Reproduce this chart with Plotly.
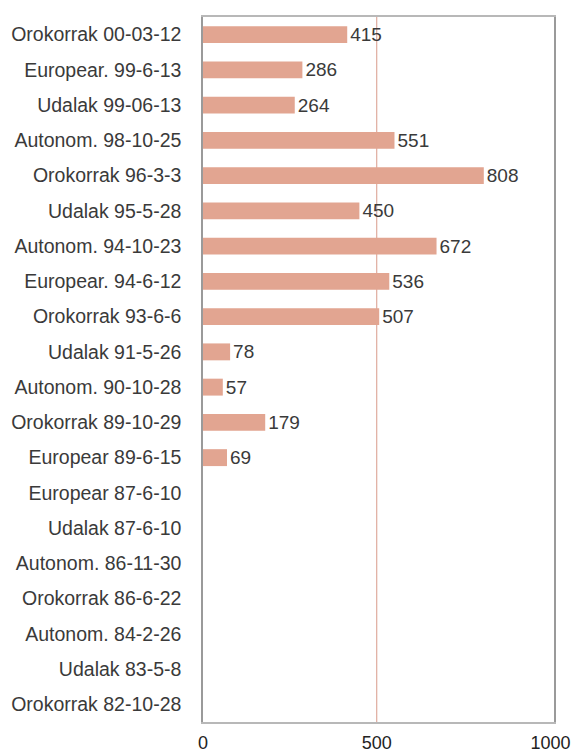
import plotly.graph_objects as go

# Election dates (top to bottom) and their values
categories = [
    "Orokorrak 00-03-12", "Europear. 99-6-13", "Udalak 99-06-13",
    "Autonom. 98-10-25", "Orokorrak 96-3-3", "Udalak 95-5-28",
    "Autonom. 94-10-23", "Europear. 94-6-12", "Orokorrak 93-6-6",
    "Udalak 91-5-26", "Autonom. 90-10-28", "Orokorrak 89-10-29",
    "Europear 89-6-15", "Europear 87-6-10", "Udalak 87-6-10",
    "Autonom. 86-11-30", "Orokorrak 86-6-22", "Autonom. 84-2-26",
    "Udalak 83-5-8", "Orokorrak 82-10-28",
]
values = [415, 286, 264, 551, 808, 450, 672, 536, 507, 78, 57, 179, 69,
          None, None, None, None, None, None, None]
x_ticks = [0, 500, 1000]
ref_value = 500

labels = ["" if v is None else str(v) for v in values]
FONT = "Liberation Sans, Arial, sans-serif"

fig = go.Figure(
    go.Bar(
        x=values,
        y=categories,
        orientation="h",
        marker=dict(color="#E2A591", line=dict(width=0)),
        width=0.48,
        text=labels,
        textposition="outside",
        constraintext="none",
        cliponaxis=False,
        textfont=dict(family=FONT, size=19, color="#3a3a3a"),
    )
)

# reference line at 500
fig.add_shape(
    type="line", xref="x", yref="paper",
    x0=ref_value, x1=ref_value, y0=0, y1=1,
    line=dict(color="#D89A8A", width=1), layer="below",
)

fig.update_layout(
    width=579, height=756,
    margin=dict(l=203, r=25, t=17, b=34, autoexpand=False),
    paper_bgcolor="white", plot_bgcolor="white",
    showlegend=False,
    font=dict(family=FONT, size=19, color="#3a3a3a"),
)
fig.update_xaxes(
    range=[0, 1010], tickvals=x_ticks, ticktext=[str(t) for t in x_ticks],
    showgrid=False, zeroline=False, automargin=False,
    showline=True, linecolor="#b8b8b8", linewidth=2, mirror=True,
    ticks="", ticklabelstandoff=3,
    tickfont=dict(family=FONT, size=18, color="#222222"),
)
fig.update_yaxes(
    categoryorder="array", categoryarray=categories, autorange="reversed",
    showgrid=False, zeroline=False, automargin=False,
    showline=True, linecolor="#9a9a9a", linewidth=1.5, mirror=True,
    ticks="", ticklabelstandoff=16,
    tickfont=dict(family=FONT, size=19.5, color="#3a3a3a"),
)

fig.write_html("out.html")
